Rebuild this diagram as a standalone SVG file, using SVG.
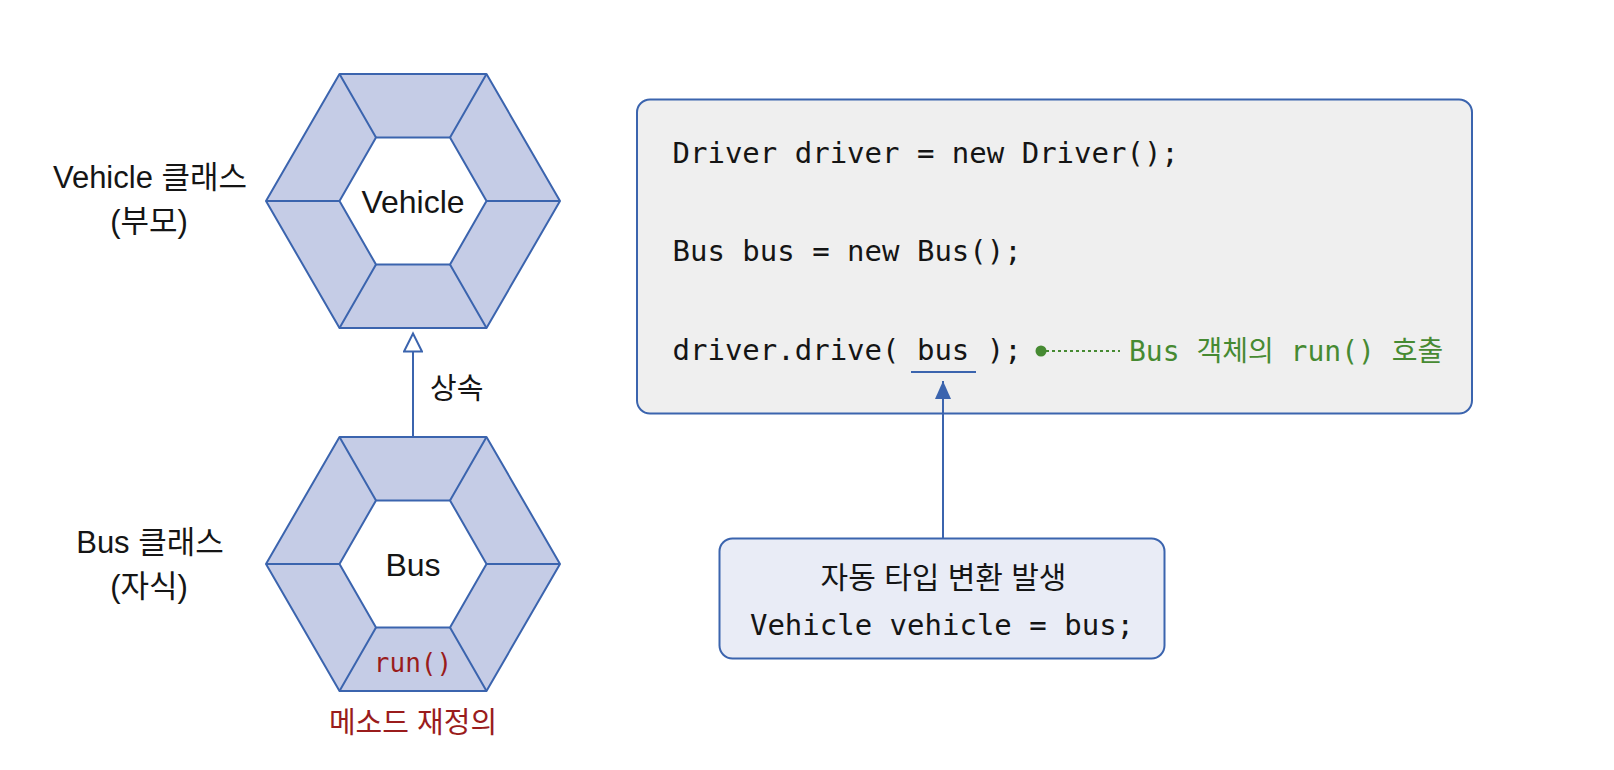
<svg xmlns="http://www.w3.org/2000/svg" width="1614" height="770" viewBox="0 0 1614 770">
<defs>
<style>
.hexo{fill:#c5cce6;stroke:#3b64ae;stroke-width:2;stroke-linejoin:round}
.hexi{fill:#ffffff;stroke:#3b64ae;stroke-width:2;stroke-linejoin:round}
.spoke{stroke:#3b64ae;stroke-width:2;fill:none}
.sans{font-family:"Liberation Sans","Noto Sans CJK KR",sans-serif;fill:#151515}
.mono{font-family:"DejaVu Sans Mono","Noto Sans CJK KR",monospace;fill:#151515}
.red{fill:#9a1c1c}
.green{fill:#468a32}
.conn{stroke:#3b64ae;stroke-width:2;fill:none}
</style>
<marker id="hollow" markerWidth="24" markerHeight="20" refX="20" refY="10" orient="auto" markerUnits="userSpaceOnUse">
<path d="M2,1 L20,10 L2,19 Z" fill="#ffffff" stroke="#3b64ae" stroke-width="2" stroke-linejoin="miter"/>
</marker>
<marker id="solid" markerWidth="20" markerHeight="18" refX="18" refY="8" orient="auto" markerUnits="userSpaceOnUse">
<path d="M0,0 L18,8 L0,16 Z" fill="#3b64ae"/>
</marker>
</defs>
<rect width="1614" height="770" fill="#ffffff"/>

<g id="vehicle-node">
<polygon class="hexo" points="266,201 339.5,74 486.5,74 560,201 486.5,328 339.5,328"/>
<polygon class="hexi" points="339.5,201 376,137.4 450,137.4 486.5,201 450,264.6 376,264.6"/>
<path class="spoke" d="M266,201 L339.5,201 M339.5,74 L376,137.4 M486.5,74 L450,137.4 M560,201 L486.5,201 M486.5,328 L450,264.6 M339.5,328 L376,264.6"/>
<text class="sans" x="413" y="213" font-size="32" text-anchor="middle">Vehicle</text>
</g>

<g id="vehicle-label">
<text class="sans" x="150" y="188" font-size="31" text-anchor="middle">Vehicle 클래스</text>
<text class="sans" x="149" y="232" font-size="31" text-anchor="middle">(부모)</text>
</g>

<g id="bus-node">
<polygon class="hexo" points="266,564 339.5,437 486.5,437 560,564 486.5,691 339.5,691"/>
<polygon class="hexi" points="339.5,564 376,500.4 450,500.4 486.5,564 450,627.6 376,627.6"/>
<path class="spoke" d="M266,564 L339.5,564 M339.5,437 L376,500.4 M486.5,437 L450,500.4 M560,564 L486.5,564 M486.5,691 L450,627.6 M339.5,691 L376,627.6"/>
<text class="sans" x="413" y="576" font-size="32" text-anchor="middle">Bus</text>
<text class="mono red" x="413" y="672" font-size="26" text-anchor="middle">run()</text>
</g>

<g id="bus-label">
<text class="sans" x="150" y="553" font-size="31" text-anchor="middle">Bus 클래스</text>
<text class="sans" x="149" y="597" font-size="31" text-anchor="middle">(자식)</text>
</g>

<g id="override-label">
<text class="sans red" x="413" y="733" font-size="29" text-anchor="middle">메소드 재정의</text>
</g>

<g id="code-box">
<rect x="637" y="99.5" width="835" height="314" rx="13" ry="13" fill="#efefef" stroke="#3b64ae" stroke-width="2"/>
<text class="mono" x="672.5" y="163" font-size="29">Driver driver = new Driver();</text>
<text class="mono" x="672.5" y="260.5" font-size="29">Bus bus = new Bus();</text>
<text class="mono" x="672.5" y="360" font-size="29">driver.drive( bus );</text>
<line x1="911" y1="372" x2="976" y2="372" stroke="#3b64ae" stroke-width="2"/>
<circle cx="1041" cy="351" r="5.5" fill="#468a32"/>
<line x1="1046" y1="351" x2="1120" y2="351" stroke="#468a32" stroke-width="2" stroke-dasharray="3,3"/>
<text class="mono green" x="1129" y="360.5" font-size="28">Bus 객체의 run() 호출</text>
</g>

<g id="conversion-box">
<rect x="719.5" y="538.5" width="445" height="120" rx="13" ry="13" fill="#e9ecf6" stroke="#3b64ae" stroke-width="2"/>
<text class="sans" x="943.5" y="588" font-size="30" text-anchor="middle">자동 타입 변환 발생</text>
<text class="mono" x="942" y="635" font-size="29" text-anchor="middle">Vehicle vehicle = bus;</text>
</g>

<g id="connectors">
<line class="conn" x1="413" y1="437" x2="413" y2="333.5" marker-end="url(#hollow)"/>
<text class="sans" x="430" y="399" font-size="29">상속</text>
<line class="conn" x1="943" y1="538.5" x2="943" y2="381" marker-end="url(#solid)"/>
</g>
</svg>
